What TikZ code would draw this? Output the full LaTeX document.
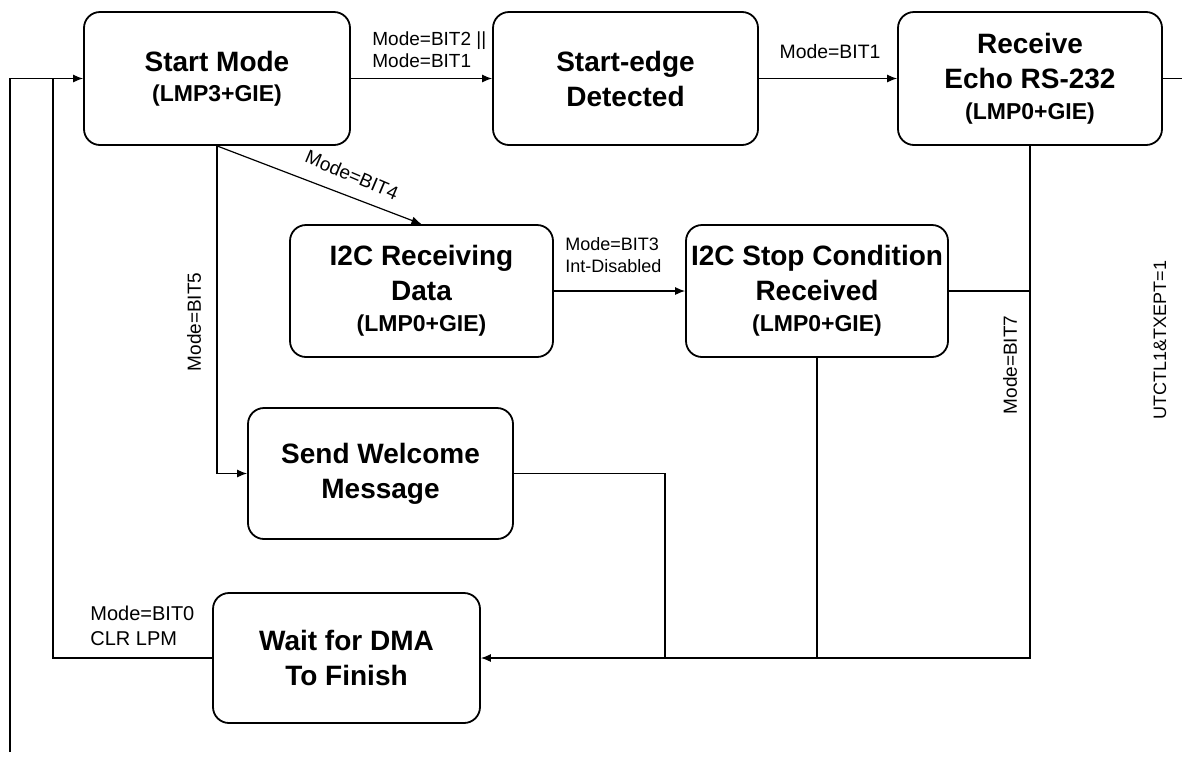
\documentclass[tikz,border=0pt]{standalone}
\usepackage{fontspec}
\setmainfont{Liberation Sans}
\usetikzlibrary{arrows.meta}
\newcommand{\subt}[1]{{\fontsize{11.5}{13}\selectfont #1}}
\begin{document}
\begin{tikzpicture}[x=0.5pt,y=-0.5pt,
  state/.style={draw, line width=0.9pt, rounded corners=8pt, align=center, inner sep=0pt,
    font=\fontsize{14}{17.5}\selectfont\bfseries},
  lbl/.style={font=\fontsize{9.5}{11}\selectfont, align=left, inner sep=0pt},
  conn/.style={line width=0.6pt},
  arr/.style={conn, -{Latex[length=5pt,width=4pt]}},
]
\useasboundingbox (0,0) rectangle (1182,761);

\node[state, minimum width=133pt, minimum height=66.5pt] (sm) at (217,78.5)
  {Start Mode\\[-2.5pt]\subt{(LMP3+GIE)}};
\node[state, minimum width=132.5pt, minimum height=66.5pt] (se) at (625.5,78.5)
  {Start-edge\\Detected};
\node[state, minimum width=132pt, minimum height=66.5pt] (re) at (1030,78.5)
  {Receive\\Echo RS-232\\[-2pt]\subt{(LMP0+GIE)}};
\node[state, minimum width=131.5pt, minimum height=66pt] (i2r) at (421.5,291)
  {I2C Receiving\\Data\\[-2pt]\subt{(LMP0+GIE)}};
\node[state, minimum width=131pt, minimum height=66pt] (i2s) at (817,291)
  {I2C Stop Condition\\Received\\[-2pt]\subt{(LMP0+GIE)}};
\node[state, minimum width=132.5pt, minimum height=65.5pt] (sw) at (380.5,473.5)
  {Send Welcome\\Message};
\node[state, minimum width=133.5pt, minimum height=65pt] (wd) at (346.5,658)
  {Wait for DMA\\To Finish};

\coordinate (lbot) at (10,752);
\coordinate (rout) at (1182,78.5);
\coordinate (lj) at (53,78.5);
\coordinate (swc) at (665,658);

\draw[arr] (sm.east) -- (se.west);
\draw[arr] (se.east) -- (re.west);
\draw[conn] (re.east) -- (rout);
\draw[arr] (lbot) |- (sm.west);
\draw[arr] (sm.south) -- (i2r.north);
\draw[arr] (sm.south) |- (sw.west);
\draw[arr] (i2r.east) -- (i2s.west);
\draw[conn] (i2s.east) -- (i2s.east -| re.south);
\draw[arr] (re.south) |- (wd.east);
\draw[conn] (i2s.south) -- (i2s.south |- wd.east);
\draw[conn] (sw.east) -| (swc);
\draw[conn] (wd.west) -| (lj);

\node[lbl, anchor=west] (l1) at (372,50) {Mode=BIT2 ||\\Mode=BIT1};
\node[lbl, font=\fontsize{9.7}{11}\selectfont] (l2) at (830,52) {Mode=BIT1};
\node[lbl, rotate=-23] (l3) at (352,175) {Mode=BIT4};
\node[lbl, rotate=90] (l4) at (194,322) {Mode=BIT5};
\node[lbl, font=\fontsize{9}{11}\selectfont, anchor=west] (l5) at (565,255) {Mode=BIT3\\Int-Disabled};
\node[lbl, rotate=90] (l6) at (1010,365) {Mode=BIT7};
\node[lbl, font=\fontsize{9}{11}\selectfont, rotate=90] (l7) at (1160,340) {UTCTL1\&TXEPT=1};
\node[lbl, font=\fontsize{10}{12.5}\selectfont, anchor=west] (l8) at (90,625.5) {Mode=BIT0\\CLR LPM};
\end{tikzpicture}
\end{document}
